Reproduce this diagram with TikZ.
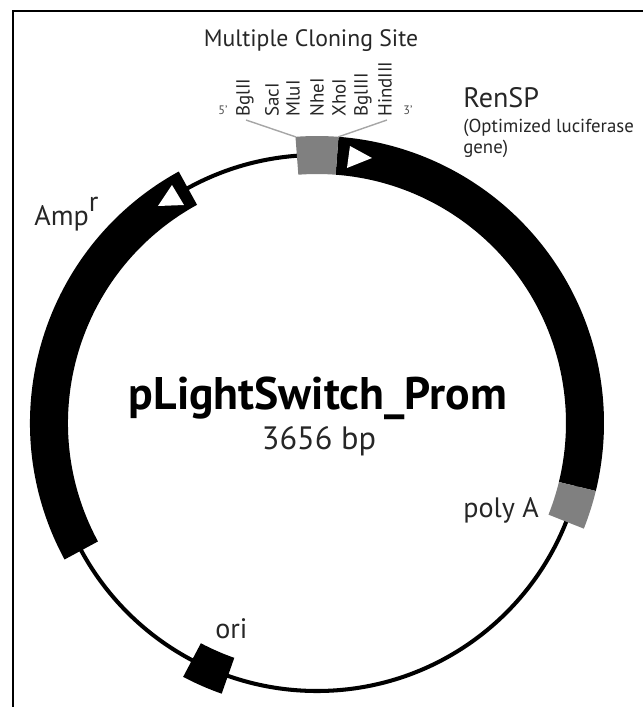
\documentclass[tikz,border=0pt]{standalone}
\usepackage{fontspec}
\setmainfont{PT Sans}
\usetikzlibrary{calc}
\tikzset{
  siteline/.style={gray!70,line width=0.8pt},
  sitename/.style={rotate=90,anchor=west,inner sep=0pt,font=\fontsize{10.8}{11}\selectfont,text=black!85},
  endname/.style={inner sep=0pt,font=\fontsize{7}{8}\selectfont,text=black!70},
  partname/.style={inner sep=0pt,anchor=base west,font=\fontsize{16}{18}\selectfont,text=black!85},
}
% one stretch of the ring between two angles
\newcommand{\ringpart}[3]{\fill[#3] (#1:249) arc[start angle=#1,end angle=#2,radius=249] -- (#2:287) arc[start angle=#2,end angle=#1,radius=287] -- cycle;}

\begin{document}
\begin{tikzpicture}[x=0.02cm,y=0.02cm]
  \useasboundingbox (-317,423) rectangle (326,-284);
  % frame
  \draw[line width=1.6pt] (-304,-284) -- (-304,412) -- (326,412);
  % ring
  \draw[line width=2.3pt] (0,0) circle[radius=268];
  \ringpart{85.7}{-13.7}{black}
  \ringpart{-13.7}{-21.6}{black!50}
  \ringpart{118.8}{208.4}{black}
  \ringpart{242.2}{250.6}{black}
  \ringpart{85.7}{94.3}{black!50}
  \fill[white] (33,277) -- (55,265) -- (30,255) -- cycle;
  \fill[white] (-145,238) -- (-159,217) -- (-133,218) -- cycle;
  % labels
  \node[anchor=base,font=\fontsize{13.5}{14}\selectfont,text=black!85] (mcs) at (-6,376) {Multiple Cloning Site};
  \node[endname] (five) at (-94,313) {5'};
  \node[endname] (three) at (91,313) {3'};
  \foreach \xpos/\sitetext in {-72/BglII,-45/SacI,-24/MluI,0/NheI,22/XhoI,46/BglIII,68/HindIII}
    \node[sitename] (site\sitetext) at (\xpos,306) {\sitetext};
  \coordinate (lineL) at (-71,303);
  \coordinate (lineR) at (70,303);
  \coordinate (boxL) at (-21,286);
  \coordinate (boxR) at (21,286);
  \draw[siteline] (lineL) -- (boxL);
  \draw[siteline] (lineR) -- (boxR);
  \node[partname] (rensp) at (146,316) {RenSP};
  \node[anchor=north west,inner sep=0pt,align=left,font=\fontsize{10.7}{12}\selectfont,text=black!85] (renspnote) at (146,304) {(Optimized luciferase\\gene)};
  \node[partname] (amp) at (-283,198) {Amp\raisebox{7.4pt}{r}};
  \node[partname] (polya) at (146,-94) {poly A};
  \node[partname] (ori) at (-102,-215) {ori};
  \node[font=\bfseries\fontsize{26}{28}\selectfont] (title) at (1,25) {pLightSwitch\_Prom};
  \node[font=\fontsize{18.4}{20}\selectfont,text=black!85] (size) at (2,-18) {3656 bp};
\end{tikzpicture}
\end{document}
